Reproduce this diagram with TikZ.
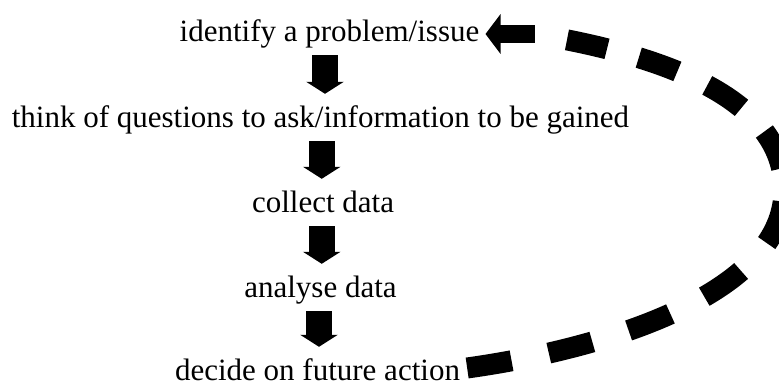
\documentclass[tikz,border=0pt]{standalone}
\usepackage{fontspec}
\setmainfont{Liberation Serif}
\usetikzlibrary{arrows.meta,calc}
\begin{document}
\begin{tikzpicture}[x=1pt,y=-1pt,
  steplabel/.style={inner sep=0pt, anchor=base, text height=21pt, text depth=7pt,
    font=\fontsize{31}{37}\selectfont},
  downarrow/.style={line width=26pt, -{Triangle[length=12pt,width=37pt]},
    shorten <=7pt, shorten >=12pt},
  backarrow/.style={line width=18pt, -{Triangle[length=15pt,width=39pt]},
    shorten >=6pt},
  looptop/.style={line width=21pt, dash pattern=on 41pt off 33pt, dash phase=41pt},
  loopbottom/.style={line width=21pt, dash pattern=on 45pt off 38pt}]
\useasboundingbox (0,0) rectangle (779,388);
\clip (0,0) rectangle (779,388);

\node[steplabel] (t1) at (329.5,41) {identify a problem/issue};
\node[steplabel] (t2) at (320.5,127) {think of questions to ask/information to be gained};
\node[steplabel] (t3) at (323,212) {collect data};
\node[steplabel] (t4) at (320.5,297) {analyse data};
\node[steplabel] (t5) at (317.5,380) {decide on future action};

\path (t1.south) -- (t2.north) coordinate[midway] (m1);
\path (t2.south) -- (t3.north) coordinate[midway] (m2);
\path (t3.south) -- (t4.north) coordinate[midway] (m3);
\path (t4.south) -- (t5.north) coordinate[midway] (m4);

\draw[downarrow] (t1.south -| m1) -- (t2.north -| m1);
\draw[downarrow] (t2.south -| m2) -- (t3.north -| m2);
\draw[downarrow] (t3.south -| m3) -- (t4.north -| m3);
\draw[downarrow] (t4.south -| m4) -- (t5.north -| m4);

\coordinate (loopstart) at ([xshift=7pt,yshift=5pt]t5.east);
\coordinate (loopend) at ([xshift=55pt]t1.east);
\coordinate (loopmid) at (784,190);
\draw[loopbottom] (loopstart) .. controls (617,347) and (784,290) .. (loopmid);
\draw[looptop] (loopend) .. controls (668,56) and (784,100) .. (loopmid);
\draw[backarrow] (loopend) -- (t1.east);
\end{tikzpicture}
\end{document}
